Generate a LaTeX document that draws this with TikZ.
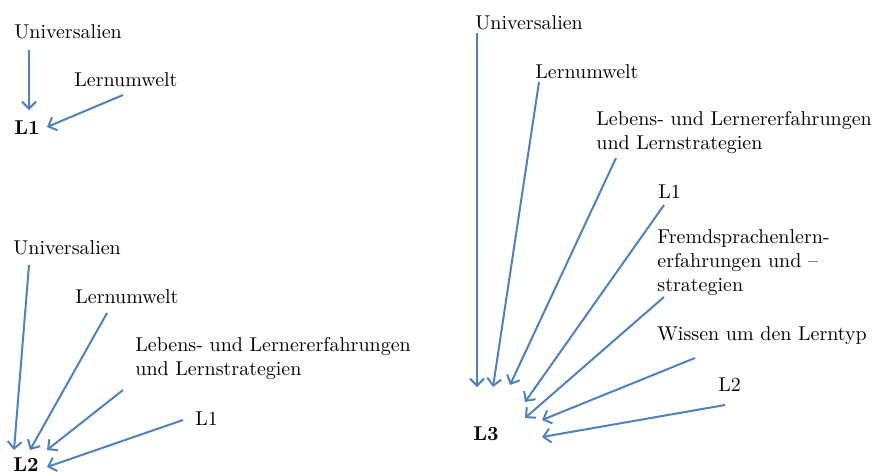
\documentclass[tikz,border=0pt]{standalone}
\usepackage{tikz}
\usetikzlibrary{arrows.meta}

\definecolor{pfeilblau}{RGB}{79,129,189}
\tikzset{
  einfluss/.style={draw=pfeilblau, line width=1pt, -{Straight Barb[length=3.5pt,width=7pt]}},
  faktor/.style={anchor=west, inner sep=0pt, align=left, text=black},
  sprache/.style={anchor=west, inner sep=0pt, font=\bfseries}
}

\begin{document}
\begin{tikzpicture}[x=0.5pt,y=-0.5pt]
  \useasboundingbox (0,0) rectangle (878,473);

  % L1
  \node[faktor] (univA) at (14,32) {Universalien};
  \node[faktor] (umweltA) at (74,80) {Lernumwelt};
  \node[sprache] (La) at (14,128) {L1};

  \coordinate (univA-s) at (29,50);   \coordinate (univA-e) at (29,110);
  \coordinate (umweltA-s) at (123,95); \coordinate (umweltA-e) at (47,127);
  \draw[einfluss] (univA-s) -- (univA-e);
  \draw[einfluss] (umweltA-s) -- (umweltA-e);

  % L2
  \node[faktor] (univB) at (13,248) {Universalien};
  \node[faktor] (umweltB) at (75,297) {Lernumwelt};
  \node[faktor] (lebenB) at (135,358) {Lebens- und Lernererfahrungen\\und Lernstrategien};
  \node[faktor] (einsB) at (195,419) {L1};
  \node[sprache] (Lb) at (13,465) {L2};

  \foreach \n/\sx/\sy/\ex/\ey in {univB/29/265/14/450, umweltB/107/313/30/450,
      lebenB/123/390/47/450, einsB/183/420/47/467}{
    \coordinate (\n-s) at (\sx,\sy);
    \coordinate (\n-e) at (\ex,\ey);
    \draw[einfluss] (\n-s) -- (\n-e);
  }

  % L3
  \node[faktor] (univC) at (475,23) {Universalien};
  \node[faktor] (umweltC) at (535,72) {Lernumwelt};
  \node[faktor] (lebenC) at (596,132) {Lebens- und Lernererfahrungen\\und Lernstrategien};
  \node[faktor] (einsC) at (658,192) {L1};
  \node[faktor] (fremdC) at (657,263) {Fremdsprachenlern-\\erfahrungen und --\\strategien};
  \node[faktor] (wissenC) at (657,336) {Wissen um den Lerntyp};
  \node[faktor] (zweiC) at (718,385) {L2};
  \node[sprache] (Lc) at (473,434) {L3};

  \foreach \n/\sx/\sy/\ex/\ey in {univC/477/33/477/387, umweltC/539/82/493/387,
      lebenC/616/158/510/385, einsC/664/205/525/402, fremdC/664/297/525/418,
      wissenC/695/358/542/420, zweiC/725/405/542/437}{
    \coordinate (\n-s) at (\sx,\sy);
    \coordinate (\n-e) at (\ex,\ey);
    \draw[einfluss] (\n-s) -- (\n-e);
  }

\end{tikzpicture}
\end{document}
